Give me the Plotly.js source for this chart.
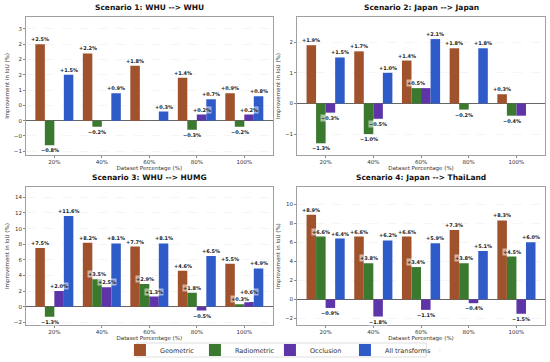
<!DOCTYPE html>
<html><head><meta charset="utf-8">
<script src="https://cdn.plot.ly/plotly-3.0.1.min.js"></script>
<style>html,body{margin:0;padding:0;background:#fff}#chart{width:550px;height:362px}</style>
</head><body><div id="chart"></div>
<script>
const categories = ['20%', '40%', '60%', '80%', '100%'];
const seriesNames = ['Geometric', 'Radiometric', 'Occlusion', 'All transforms'];
const titles = ['Scenario 1: WHU --> WHU', 'Scenario 2: Japan --> Japan', 'Scenario 3: WHU --> HUMG', 'Scenario 4: Japan --> ThaiLand'];

// Scenario 1
const s1Geometric   = [2.5, 2.2, 1.8, 1.4, 0.9];
const s1Radiometric = [-0.8, -0.2, 0, -0.3, -0.2];
const s1Occlusion   = [0, 0, 0, 0.2, 0.2];
const s1All         = [1.5, 0.9, 0.3, 0.7, 0.8];
// Scenario 2
const s2Geometric   = [1.9, 1.7, 1.4, 1.8, 0.3];
const s2Radiometric = [-1.3, -1.0, 0.5, -0.2, -0.4];
const s2Occlusion   = [-0.3, -0.5, 0.5, 0, -0.4];
const s2All         = [1.5, 1.0, 2.1, 1.8, 0];
// Scenario 3
const s3Geometric   = [7.5, 8.2, 7.7, 4.6, 5.5];
const s3Radiometric = [-1.3, 3.5, 2.9, 1.8, 0.3];
const s3Occlusion   = [2.0, 2.5, 1.3, -0.5, 0.6];
const s3All         = [11.6, 8.1, 8.1, 6.5, 4.9];
// Scenario 4
const s4Geometric   = [8.9, 6.6, 6.6, 7.3, 8.3];
const s4Radiometric = [6.6, 3.8, 3.4, 3.8, 4.5];
const s4Occlusion   = [-0.9, -1.8, -1.1, -0.4, -1.5];
const s4All         = [6.4, 6.2, 5.9, 5.1, 6.0];

// Scenario 1 tick labels (as printed in the reference)
const s1TickVals = [-1, -0.5, 0, 0.5, 1, 1.5, 2, 2.5, 3];
const s1TickText = ['\u22121', '\u22120', '0', '0', '1', '2', '2', '2', '3'];

const scenarios = [
  [s1Geometric, s1Radiometric, s1Occlusion, s1All],
  [s2Geometric, s2Radiometric, s2Occlusion, s2All],
  [s3Geometric, s3Radiometric, s3Occlusion, s3All],
  [s4Geometric, s4Radiometric, s4Occlusion, s4All]
];
const colors = ['#a0522d', '#3b7a2e', '#5d35a8', '#2f5bc8'];
const yRanges = [[-1.12, 3.39], [-1.68, 2.82], [-2.35, 15.3], [-2.7, 11.8]];
const xDomains = [[0.047, 0.496], [0.54, 0.991], [0.047, 0.496], [0.54, 0.991]];
const yDomains = [[0.572, 0.953], [0.572, 0.953], [0.102, 0.483], [0.102, 0.483]];
const offsets = [-0.3, -0.1, 0.1, 0.3];
const H = 362;

const traces = [];
const annotations = [];
const layout = {
  width: 550, height: 362,
  margin: {l: 0, r: 0, t: 0, b: 0, pad: 0, autoexpand: false},
  paper_bgcolor: '#fff', plot_bgcolor: '#fff',
  barmode: 'group', bargap: 0.2, bargroupgap: 0,
  font: {family: 'DejaVu Sans', size: 6, color: '#333'},
  showlegend: true,
  legend: {orientation: 'h', x: 0.559, xanchor: 'center', y: 0.033, yanchor: 'middle',
           borderwidth: 0, bgcolor: 'rgba(0,0,0,0)', font: {size: 6.5, color: '#333'},
           tracegroupgap: 0, itemwidth: 30, entrywidth: 30, entrywidthmode: 'pixels'},
  shapes: [{type: 'rect', xref: 'paper', yref: 'paper', x0: 0.249, x1: 0.775, y0: 0.0138, y1: 0.0525,
            line: {color: '#d8d8d8', width: 0.8}, fillcolor: 'rgba(0,0,0,0)', layer: 'below'}],
  annotations: annotations
};

function label(v) {
  return '<b>' + (v > 0 ? '+' : '\u2212') + Math.abs(v).toFixed(1) + '%</b>';
}

scenarios.forEach((series, k) => {
  const n = k + 1;
  const xa = 'x' + (n === 1 ? '' : n), ya = 'y' + (n === 1 ? '' : n);
  const pxPerUnit = (yDomains[k][1] - yDomains[k][0]) * H / (yRanges[k][1] - yRanges[k][0]);
  series.forEach((vals, j) => {
    traces.push({
      type: 'bar', x: categories, y: vals, name: seriesNames[j],
      xaxis: xa, yaxis: ya, marker: {color: colors[j], line: {width: 0}},
      showlegend: k === 0, legendgroup: seriesNames[j], hoverinfo: 'skip'
    });
  });
  categories.forEach((c, i) => {
    let prev = null, prevShift = 0;
    series.forEach((vals, j) => {
      const v = vals[i];
      if (v === 0) { prev = null; return; }
      // identical neighbouring labels print as a single label in the reference
      if (prev !== null && prev === v) { return; }
      let shift = v > 0 ? 1 : -1;
      if (prev !== null && Math.sign(prev) === Math.sign(v) && v > 0) {
        const d = (v - prev) * pxPerUnit + shift - prevShift;
        if (Math.abs(d) < 7) shift += (7 - d);
      }
      annotations.push({
        xref: xa, yref: ya, x: i + offsets[j], y: v, xanchor: 'center',
        text: label(v), showarrow: false, font: {size: 5, color: '#222'},
        yanchor: v > 0 ? 'bottom' : 'top', yshift: shift,
        bgcolor: 'rgba(255,255,255,0.55)', borderpad: 0
      });
      prev = v; prevShift = shift;
    });
  });
  const axKey = 'xaxis' + (n === 1 ? '' : n), ayKey = 'yaxis' + (n === 1 ? '' : n);
  layout[axKey] = {
    domain: xDomains[k], anchor: ya, type: 'category', range: [-0.6, 4.6],
    automargin: false,
    showline: true, mirror: true, linecolor: '#888', linewidth: 0.8,
    ticks: 'outside', ticklen: 2, tickcolor: '#888', showgrid: false,
    tickfont: {size: 5.5, color: '#333'},
    title: {text: 'Dataset Percentage (%)', font: {size: 5.5, color: '#333'}, standoff: 1}
  };
  const yax = {
    domain: yDomains[k], anchor: xa, range: yRanges[k],
    automargin: false,
    showline: true, mirror: true, linecolor: '#888', linewidth: 0.8,
    ticks: 'outside', ticklen: 2, tickcolor: '#888',
    showgrid: true, gridcolor: '#eeeeee', griddash: 'dash', gridwidth: 0.6,
    zeroline: true, zerolinecolor: '#666', zerolinewidth: 1,
    tickfont: {size: 5.5, color: '#333'},
    title: {text: 'Improvement in IoU (%)', font: {size: 5.5, color: '#333'}, standoff: 3}
  };
  if (k === 0) { yax.tickvals = s1TickVals; yax.ticktext = s1TickText; }
  else if (k === 1) { yax.dtick = 1; }
  else { yax.dtick = 2; }
  layout[ayKey] = yax;
  annotations.push({
    xref: 'paper', yref: 'paper', xanchor: 'center',
    x: (xDomains[k][0] + xDomains[k][1]) / 2, y: yDomains[k][1] + 0.008,
    yanchor: 'bottom', showarrow: false,
    text: '<b>' + titles[k] + '</b>', font: {size: 7.5, color: '#111'}
  });
});

// invisible spacer entry so the last legend label is not clipped by the fixed entry width
traces.push({type: 'scatter', mode: 'markers', x: [categories[0]], y: [0], name: ' ',
             xaxis: 'x', yaxis: 'y', marker: {size: 1, opacity: 0},
             showlegend: true, hoverinfo: 'skip'});

Plotly.newPlot('chart', traces, layout, {displayModeBar: false, staticPlot: true});
</script></body></html>
